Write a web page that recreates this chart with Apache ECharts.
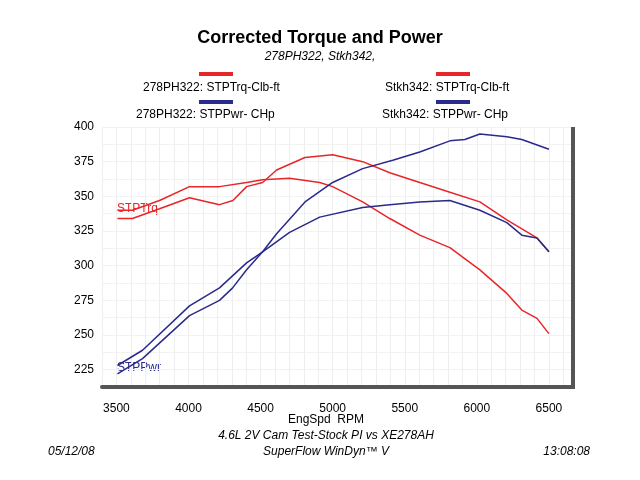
<!DOCTYPE html><html><head><meta charset="utf-8"><script src="https://cdn.jsdelivr.net/npm/echarts@6/dist/echarts.min.js"></script>
<style>body{margin:0;background:#fff}#c{width:640px;height:480px}</style></head><body><div id="c"></div><script>
const trq1Rpm=[3507,3611,3799,4007,4215,4403,4514,4701,4910,5000,5208,5396,5604,5813,6021,6208,6312,6417,6500];
const trq1Val=[340,340,347,357,357,360,362,363,360,357,346,334,322,313,297,280,268,262,251];
const trq2Rpm=[3507,3611,3799,4007,4215,4308,4403,4514,4611,4808,5000,5208,5396,5604,5813,6021,6208,6417,6500];
const trq2Val=[334,334,341,349,344,347,357,360,369,378,380,375,367,360,353,346,333,320,310];
const pwr1Rpm=[3507,3681,4007,4215,4306,4403,4514,4701,4910,5208,5396,5604,5813,6021,6208,6312,6417,6500];
const pwr1Val=[222,233,264,275,284,297,310,324,335,342,344,346,347,340,331,322,320,310];
const pwr2Rpm=[3507,3681,4007,4215,4403,4514,4611,4808,5000,5208,5417,5604,5813,5917,6021,6208,6312,6500];
const pwr2Val=[228,239,271,284,302,310,323,346,360,370,376,382,390,391,395,393,391,384];
const zip=(a,b)=>a.map((x,i)=>[x,b[i]]);
const red='#e8262a',blue='#2a2a8c';
const ch=echarts.init(document.getElementById('c'));
const tx=(x,y,t,o)=>Object.assign({type:'text',x,y,style:Object.assign({text:t,fontFamily:'Arial, Liberation Sans',fontSize:12,fill:'#000'},o||{})});
const ln=(x1,x2,y,c)=>({type:'line',shape:{x1,y1:y,x2,y2:y},style:{stroke:c,lineWidth:4}});
ch.setOption({animation:false,
grid:{left:102,right:68,top:127,bottom:93},
xAxis:{type:'value',min:3400,max:6660,interval:100,
 axisLine:{lineStyle:{color:'#555',width:4}},axisTick:{show:false},
 axisLabel:{formatter:v=>v%500===0?v:'',color:'#000',fontSize:12,fontFamily:'Arial',margin:16},
 splitLine:{show:true,lineStyle:{color:'#eee'}}},
yAxis:{type:'value',min:212.5,max:400,interval:12.5,
 axisLine:{show:false},axisTick:{show:false},
 axisLabel:{formatter:v=>v%25===0?v:'',color:'#000',fontSize:12,fontFamily:'Arial',margin:8},
 splitLine:{show:true,lineStyle:{color:'#f2f2f2'}}},
series:[
 {type:'line',data:zip(trq1Rpm,trq1Val),showSymbol:false,lineStyle:{color:red,width:1.5}},
 {type:'line',data:zip(trq2Rpm,trq2Val),showSymbol:false,lineStyle:{color:red,width:1.5}},
 {type:'line',data:zip(pwr1Rpm,pwr1Val),showSymbol:false,lineStyle:{color:blue,width:1.5}},
 {type:'line',data:zip(pwr2Rpm,pwr2Val),showSymbol:false,lineStyle:{color:blue,width:1.5}}],
graphic:[
 {type:'rect',z:100,shape:{x:571,y:127,width:4,height:262},style:{fill:'#555'}},
 tx(320,29,'Corrected Torque and Power',{fontSize:18,fontWeight:'bold',textAlign:'center'}),
 tx(320,51,'278PH322, Stkh342,',{fontStyle:'italic',textAlign:'center'}),
 ln(199,233,74,red),ln(199,233,102,blue),ln(436,470,74,red),ln(436,470,102,blue),
 tx(143,82,'278PH322: STPTrq-Clb-ft'),tx(136,109,'278PH322: STPPwr- CHp'),
 tx(385,82,'Stkh342: STPTrq-Clb-ft'),tx(382,109,'Stkh342: STPPwr- CHp'),
 tx(117,203,'STPTrq',{fill:red}),tx(117,362,'STPPwr',{fill:blue}),
 tx(326,414,'EngSpd  RPM',{textAlign:'center'}),
 tx(326,430,'4.6L 2V Cam Test-Stock PI vs XE278AH',{textAlign:'center',fontStyle:'italic'}),
 tx(326,446,'SuperFlow WinDyn™ V',{textAlign:'center',fontStyle:'italic'}),
 tx(48,446,'05/12/08',{fontStyle:'italic'}),tx(590,446,'13:08:08',{fontStyle:'italic',textAlign:'right'})
]});
</script></body></html>
